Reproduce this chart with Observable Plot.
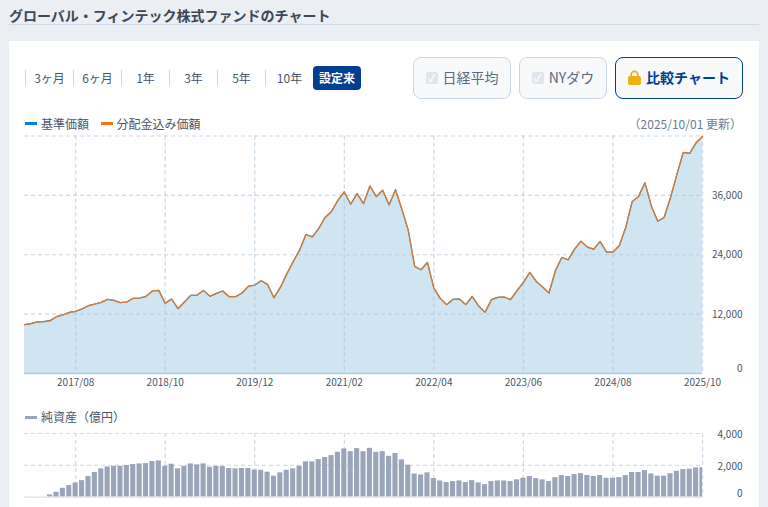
<!DOCTYPE html>
<html lang="ja">
<head>
<meta charset="utf-8">
<script src="https://cdn.jsdelivr.net/npm/d3@7"></script>
<script src="https://cdn.jsdelivr.net/npm/@observablehq/plot@0.6"></script>
<style>
html,body{margin:0;padding:0;width:768px;height:507px;overflow:hidden;background:#ebeef2;font-family:"Noto Sans CJK JP","Noto Sans",sans-serif;color:#4a5568}
.abs{position:absolute;white-space:nowrap}
#title{left:9px;top:4.5px;font-size:14px;line-height:20px;font-weight:700;color:#3d4756}
#rule{left:9px;top:24px;width:750px;height:1px;background:#cdd8e8}
#card{left:9px;top:41px;width:750px;height:466px;background:#fff}
.tab{top:70px;width:48px;height:16px;line-height:15px;font-size:12px;text-align:center;border-left:1px solid #ccd3dd;box-sizing:border-box;color:#4a5568}
#active{left:313px;top:66px;width:48px;height:24px;line-height:23px;border-radius:4px;background:#003f94;color:#fff;font-weight:700;font-size:12px;text-align:center}
.btn{top:57px;height:42px;box-sizing:border-box;border:1px solid #ccd7e5;border-radius:8px;background:#f7f9fb;font-size:14px;color:#5a6a80;line-height:39px;text-align:center}
.chk{display:inline-block;width:12px;height:12px;border-radius:2px;background:#e1e6ee;color:#fff;font-size:10px;line-height:12px;text-align:center;margin-right:5px;vertical-align:1px;font-weight:700}
#cmp{left:615px;width:128px;border:1.5px solid #003f94;color:#003f94;font-weight:700;font-size:14px;line-height:39px}
#cmp svg{vertical-align:-2px;margin-right:5px}
.sw{width:12px;height:3.5px}
.leg{font-size:12px;line-height:16px;color:#4a5568}
#chart1{position:absolute;left:0;top:125px}
#chart2{position:absolute;left:0;top:425px}
svg{overflow:visible}
</style>
</head>
<body>
<div class="abs" id="title">グローバル・フィンテック株式ファンドのチャート</div>
<div class="abs" id="rule"></div>
<div class="abs" id="card"></div>
<div id="tabs"></div>
<div class="abs" id="active">設定来</div>
<div class="abs btn" style="left:413px;width:98px"><span class="chk">✓</span>日経平均</div>
<div class="abs btn" style="left:519px;width:88px"><span class="chk">✓</span>NYダウ</div>
<div class="abs btn" id="cmp"><svg width="13" height="15" viewBox="0 0 13 15"><path d="M3.2 7V4.6a3.3 3.3 0 0 1 6.6 0V7" fill="none" stroke="#eeb111" stroke-width="1.7"/><rect x="0" y="6" width="13" height="9" rx="2" fill="#eeb111"/></svg>比較チャート</div>
<div class="abs sw" style="left:25px;top:121.5px;background:#0086c8"></div>
<div class="abs leg" style="left:41px;top:115.5px">基準価額</div>
<div class="abs sw" style="left:101px;top:121.5px;background:#f97316"></div>
<div class="abs leg" style="left:116.5px;top:115.5px">分配金込み価額</div>
<div class="abs leg" style="right:26px;top:115.5px;color:#6b7a90">（2025/10/01 更新）</div>
<div id="chart1"></div>
<div class="abs sw" style="left:25px;top:415.5px;background:#99a5b9"></div>
<div class="abs leg" style="left:41px;top:409px">純資産（億円）</div>
<div id="chart2"></div>
<script>
const tabLabels = ["3ヶ月","6ヶ月","1年","3年","5年","10年"];

const basePrice = [9880,10080,10420,10480,10680,11490,11830,12360,12570,13040,13710,14040,14380,14990,14780,14310,14450,15190,15250,15590,16670,16800,14180,15050,13100,14450,15790,15860,16800,15590,16200,16670,15520,15520,16260,17610,17880,18750,18010,15320,17400,20090,22580,24930,28090,27620,29300,31520,32730,35010,36690,34200,36360,34340,37900,35750,37030,34070,37160,33200,28960,21640,20970,22440,17270,15190,13910,14990,15050,13910,15590,13640,12360,14920,15390,15460,14920,16730,18410,20430,18610,17470,16260,20760,23450,22980,25130,26750,25540,25130,26680,24530,24530,25870,29500,34740,35750,38570,33870,30780,31520,35550,40250,44690,44490,46640,47910];
const totalPrice = basePrice.slice();
const netAssets = [10,10,10,10,146,310,560,730,900,1040,1300,1550,1780,1900,1940,1940,1990,2050,2090,2110,2240,2280,1940,2070,1780,1940,2090,2030,2090,1880,1940,1920,1800,1780,1800,1800,1710,1690,1570,1320,1530,1690,1780,1940,2220,2220,2360,2490,2610,2820,3030,2860,3050,2860,3070,2820,2860,2570,2740,2340,2010,1460,1400,1530,1170,1020,920,980,1020,920,1040,900,790,980,1020,1020,980,1090,1190,1300,1170,1090,980,1230,1360,1300,1420,1480,1360,1300,1360,1190,1190,1230,1360,1550,1550,1670,1460,1320,1320,1480,1630,1730,1760,1840,1860];
const xTickIndex = [8,22,36,50,64,78,92,106];
const xTickLabels = ["2017/08","2018/10","2019/12","2021/02","2022/04","2023/06","2024/08","2025/10"];
const yTicksMain = [12000,24000,36000];
const yGridMain = [12000,24000,36000,48000];
const yTicksSub = [2000,4000];

const tabs = document.getElementById("tabs");
tabLabels.forEach((t,i)=>{
  const d=document.createElement("div");
  d.className="abs tab"; d.textContent=t; d.style.left=(25+48*i)+"px";
  tabs.appendChild(d);
});

const fmtX = d => xTickLabels[xTickIndex.indexOf(d)];
const fmtY = d3.format(",");
const gridV = "#cfd9e7";
const xScale = {domain:[0,106]};
const axisFont = {fontSize:10, fill:"#4a5568"};

const main = Plot.plot({
  width:768, height:270,
  marginLeft:24, marginRight:66, marginTop:10.5, marginBottom:22,
  style:{fontFamily:'"Noto Sans CJK JP","Noto Sans",sans-serif',background:"transparent"},
  x:{...xScale},
  y:{domain:[0,48000]},
  marks:[
    Plot.areaY(basePrice,{x:(d,i)=>i,y:d=>d,fill:"#cfe5f2"}),
    Plot.ruleX(xTickIndex,{stroke:"#a9c3dc",strokeWidth:1.3,strokeDasharray:"4 3",strokeOpacity:0.6}),
    Plot.ruleY(yGridMain,{stroke:"#a9c0da",strokeWidth:1.1,strokeDasharray:"4 3",strokeOpacity:0.6}),
    Plot.ruleY([0],{stroke:"#a9cde4",strokeWidth:1.5}),
    Plot.lineY(basePrice,{x:(d,i)=>i,y:d=>d,stroke:"#0086c8",strokeWidth:1.2}),
    Plot.lineY(totalPrice,{x:(d,i)=>i,y:d=>d,stroke:"#f47a1c",strokeWidth:1.3,strokeOpacity:0.88}),
    Plot.axisX(xTickIndex,{tickSize:0,tickPadding:5,tickFormat:fmtX,label:null,...axisFont}),
    Plot.axisY(yTicksMain,{anchor:"right",tickSize:0,tickPadding:40,textAnchor:"end",dy:0.5,tickFormat:fmtY,label:null,...axisFont}),
    Plot.axisY([0],{anchor:"right",tickSize:0,tickPadding:40,textAnchor:"end",dy:-4.5,tickFormat:fmtY,label:null,...axisFont})
  ]
});
document.getElementById("chart1").appendChild(main);

const sub = Plot.plot({
  width:768, height:82,
  marginLeft:24, marginRight:66, marginTop:8, marginBottom:10.3,
  style:{fontFamily:'"Noto Sans CJK JP","Noto Sans",sans-serif',background:"transparent"},
  x:{...xScale, axis:null},
  y:{domain:[0,4000]},
  marks:[
    Plot.ruleX(xTickIndex,{stroke:gridV,strokeWidth:1.2,strokeDasharray:"4 3"}),
    Plot.ruleY(yTicksSub,{stroke:"#d5ddea",strokeWidth:1.2,strokeDasharray:"4 3"}),
    Plot.rectY(netAssets,{x1:(d,i)=>i-0.4,x2:(d,i)=>i+0.4,y:d=>d,fill:"#99a5b9",clip:true}),
    Plot.ruleY([0],{stroke:"#d5ddea",strokeWidth:1}),
    Plot.axisY(yTicksSub,{anchor:"right",tickSize:0,tickPadding:40,textAnchor:"end",dy:1,tickFormat:fmtY,label:null,...axisFont}),
    Plot.axisY([0],{anchor:"right",tickSize:0,tickPadding:40,textAnchor:"end",dy:-3.5,tickFormat:fmtY,label:null,...axisFont})
  ]
});
document.getElementById("chart2").appendChild(sub);
</script>
</body>
</html>
